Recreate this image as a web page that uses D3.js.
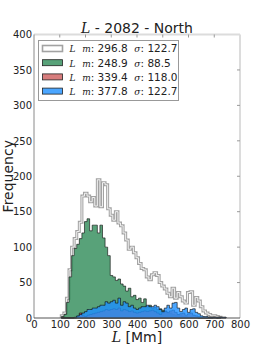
<!DOCTYPE html>
<html>
<head>
<meta charset="utf-8">
<script src="https://cdn.jsdelivr.net/npm/d3@7"></script>
<style>
  body { margin: 0; background: #fff; }
  text { font-family: "DejaVu Sans", sans-serif; fill: #222; }
</style>
</head>
<body>
<div id="chart"></div>
<script>
// histogram bins (Mm)
var binStart = 106,
    binWidth = 10;

// all loops (grey outline)
var countsAll = [3, 7, 28, 68, 100, 112, 122, 135, 172, 176, 172, 164, 170, 158, 195, 157, 191, 188,
  154, 145, 138, 150, 134, 130, 120, 110, 97, 100, 92, 85, 77, 70, 68, 58, 54, 61, 64, 60, 50, 45,
  41, 35, 30, 42, 28, 36, 30, 24, 21, 36, 37, 18, 29, 24, 16, 10, 7, 5, 3, 3, 2, 1];
// green
var countsGreen = [2, 5, 22, 58, 88, 98, 104, 112, 120, 136, 140, 123, 131, 131, 120, 131, 113, 100,
  88, 60, 58, 53, 55, 48, 45, 38, 42, 30, 32, 26, 28, 22, 27, 16, 18, 14, 15, 12, 13, 11, 10, 7, 7,
  5, 4, 4, 3, 2, 2, 1, 1, 1, 1, 0, 0, 0, 0, 0, 0, 1, 0, 1];
// red
var countsRed = [0, 0, 0, 0, 0, 0, 2, 7, 3, 2, 4, 5, 6, 7, 8, 9, 10, 12, 11, 12, 13, 12, 14, 10, 12,
  11, 9, 10, 8, 7, 8, 9, 10, 9, 10, 11, 9, 7, 5, 8, 9, 8, 10, 11, 8, 5, 6, 7, 4, 6, 7, 4, 3, 2, 1,
  1, 1, 1, 1, 1, 1, 1, 1, 1];
// blue
var countsBlue = [0, 0, 0, 0, 0, 1, 3, 5, 7, 9, 12, 12, 14, 14, 16, 18, 18, 23, 21, 23, 25, 21, 28,
  18, 23, 21, 16, 18, 14, 12, 14, 16, 16, 18, 16, 16, 18, 16, 12, 9, 14, 18, 14, 21, 22, 14, 9, 12,
  14, 8, 12, 13, 8, 6, 3, 2, 2, 1, 1, 1, 1, 1, 1, 1];

var legendLabels = [
  { m: "296.8", s: "122.7" },
  { m: "248.9", s: "88.5" },
  { m: "339.4", s: "118.0" },
  { m: "377.8", s: "122.7" }
];

var xTicks = [0, 100, 200, 300, 400, 500, 600, 700, 800];
var yTicks = [0, 50, 100, 150, 200, 250, 300, 350, 400];

var width = 266, height = 354;
var margin = { left: 34, right: 26, top: 34.5, bottom: 36 };

var svg = d3.select("#chart").append("svg")
  .attr("width", width)
  .attr("height", height);

var x = d3.scaleLinear()
  .domain([0, 800])
  .range([margin.left, width - margin.right]);

var y = d3.scaleLinear()
  .domain([0, 400])
  .range([height - margin.bottom, margin.top]);

// turn a list of counts into step outline points
function stepPoints(counts) {
  var pts = [[binStart, 0]];
  counts.forEach(function(c, i) { pts.push([binStart + i * binWidth, c]); });
  pts.push([binStart + counts.length * binWidth, 0]);
  return pts;
}

var step = d3.line()
  .x(function(d) { return x(d[0]); })
  .y(function(d) { return y(d[1]); })
  .curve(d3.curveStepAfter);

var plot = svg.append("g");

// grey outline, drawn as a doubled line
plot.append("path")
  .attr("d", step(stepPoints(countsAll)))
  .attr("fill", "none")
  .attr("stroke", "#a2a2a2")
  .attr("stroke-width", 3);
plot.append("path")
  .attr("d", step(stepPoints(countsAll)))
  .attr("fill", "none")
  .attr("stroke", "#f2f2f2")
  .attr("stroke-width", 1);

var filled = [
  { counts: countsGreen, color: "#2E8B57" },
  { counts: countsRed, color: "#CD5C5C" },
  { counts: countsBlue, color: "#1E90FF" }
];

filled.forEach(function(s) {
  plot.append("path")
    .attr("d", step(stepPoints(s.counts)) + "Z")
    .attr("fill", s.color)
    .attr("fill-opacity", 0.8)
    .attr("stroke", "#111")
    .attr("stroke-opacity", 0.8)
    .attr("stroke-width", 0.8);
});

// frame
var x0 = x.range()[0], x1 = x.range()[1], y0 = y.range()[0], y1 = y.range()[1];
svg.append("line").attr("x1", x0).attr("x2", x1).attr("y1", y1).attr("y2", y1)
  .attr("stroke", "#dcdcdc").attr("stroke-width", 2);
svg.append("line").attr("x1", x1).attr("x2", x1).attr("y1", y1).attr("y2", y0)
  .attr("stroke", "#dcdcdc").attr("stroke-width", 2);
svg.append("line").attr("x1", x0).attr("x2", x0).attr("y1", y1).attr("y2", y0)
  .attr("stroke", "#8a8a8a").attr("stroke-width", 1);
svg.append("line").attr("x1", x0).attr("x2", x1).attr("y1", y0).attr("y2", y0)
  .attr("stroke", "#555").attr("stroke-width", 1);

// small inside ticks on right and top
svg.selectAll(".rt").data(yTicks.slice(1, -1)).enter().append("line")
  .attr("x1", x1 - 3).attr("x2", x1)
  .attr("y1", function(d) { return y(d); })
  .attr("y2", function(d) { return y(d); })
  .attr("stroke", "#999");
svg.selectAll(".tt").data(xTicks.slice(1, -1)).enter().append("line")
  .attr("y1", y1).attr("y2", y1 + 3)
  .attr("x1", function(d) { return x(d); })
  .attr("x2", function(d) { return x(d); })
  .attr("stroke", "#999");

// axes
var xAxis = svg.append("g")
  .attr("transform", "translate(0," + y0 + ")")
  .call(d3.axisBottom(x).tickValues(xTicks).tickSize(0).tickPadding(3));
xAxis.select(".domain").remove();
xAxis.selectAll("text").attr("font-size", 10).attr("font-family", "DejaVu Sans").attr("fill", "#222");

var yAxis = svg.append("g")
  .attr("transform", "translate(" + x0 + ",0)")
  .call(d3.axisLeft(y).tickValues(yTicks).tickSize(0).tickPadding(2));
yAxis.select(".domain").remove();
yAxis.selectAll("text").attr("font-size", 10).attr("font-family", "DejaVu Sans").attr("fill", "#222");

// title
var title = svg.append("text")
  .attr("x", (x0 + x1) / 2)
  .attr("y", 33)
  .attr("text-anchor", "middle")
  .attr("font-size", 14);
title.append("tspan").attr("font-family", "DejaVu Serif").attr("font-style", "italic").text("L");
title.append("tspan").text(" - 2082 - North");

// x label
var xl = svg.append("text")
  .attr("x", (x0 + x1) / 2)
  .attr("y", 342)
  .attr("text-anchor", "middle")
  .attr("font-size", 14);
xl.append("tspan").attr("font-family", "DejaVu Serif").attr("font-style", "italic").text("L");
xl.append("tspan").text(" [Mm]");

// y label
svg.append("text")
  .attr("transform", "translate(13," + (y0 + y1) / 2 + ")rotate(-90)")
  .attr("text-anchor", "middle")
  .attr("font-size", 14)
  .text("Frequency");

// legend
var lg = svg.append("g").attr("transform", "translate(38.5,40.5)");
lg.append("rect")
  .attr("width", 140).attr("height", 60)
  .attr("fill", "#fff")
  .attr("stroke", "#999")
  .attr("stroke-width", 1);

var patchColors = [null, "#2E8B57", "#CD5C5C", "#1E90FF"];
legendLabels.forEach(function(d, i) {
  var row = lg.append("g").attr("transform", "translate(4," + (8 + i * 14.2) + ")");
  if (patchColors[i]) {
    row.append("rect")
      .attr("x", 0).attr("y", -3).attr("width", 20).attr("height", 6)
      .attr("fill", patchColors[i]).attr("fill-opacity", 0.8)
      .attr("stroke", "#222").attr("stroke-width", 0.8);
  } else {
    row.append("rect")
      .attr("x", 0).attr("y", -3).attr("width", 20).attr("height", 6)
      .attr("fill", "#fff").attr("stroke", "#a2a2a2").attr("stroke-width", 1.6);
  }
  var t = row.append("text")
    .attr("x", 27)
    .attr("y", 3.8)
    .attr("font-size", 10.5);
  t.append("tspan").attr("font-family", "DejaVu Serif").attr("font-style", "italic").attr("font-size", 9).text("L");
  t.append("tspan").text("\u00a0\u00a0");
  t.append("tspan").attr("font-family", "DejaVu Serif").attr("font-style", "italic").attr("font-size", 9).text("m");
  t.append("tspan").text(": " + d.m + "\u00a0\u00a0");
  t.append("tspan").attr("font-family", "DejaVu Serif").attr("font-style", "italic").attr("font-size", 9).text("\u03c3");
  t.append("tspan").text(": " + d.s);
});
</script>
</body>
</html>
